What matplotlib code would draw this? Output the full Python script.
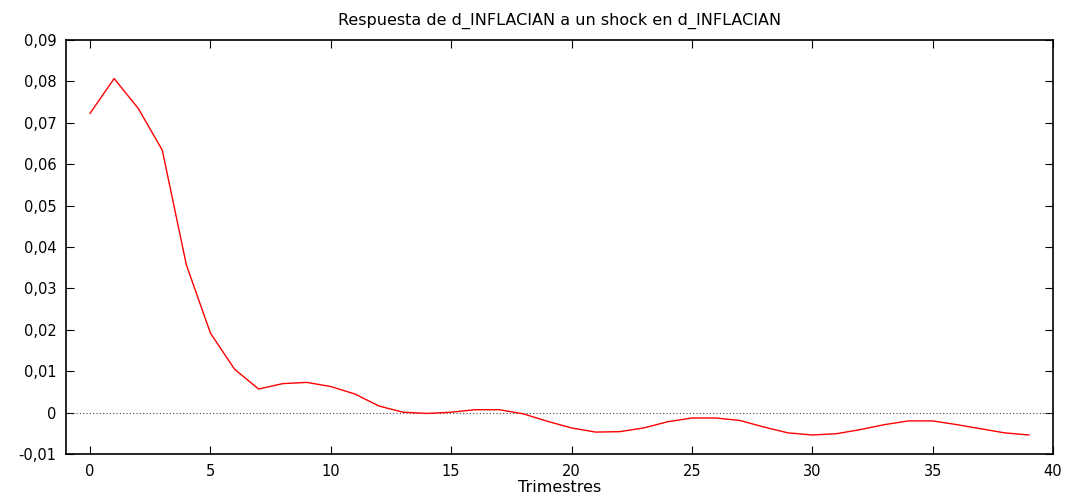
import matplotlib
matplotlib.use('Agg')
import matplotlib.pyplot as plt
from matplotlib.ticker import FuncFormatter

# respuesta al impulso, horizonte 0..39 trimestres
periodos = list(range(40))
respuesta = [
    0.0723, 0.0807, 0.0735, 0.0634, 0.0357, 0.0192, 0.0105, 0.0057, 0.0070, 0.0073,
    0.0063, 0.0045, 0.0016, 0.0001, -0.0002, 0.0001, 0.0007, 0.0007, -0.0003, -0.0021,
    -0.0037, -0.0047, -0.0046, -0.0037, -0.0022, -0.0013, -0.0013, -0.0019, -0.0035, -0.0049,
    -0.0054, -0.0051, -0.0041, -0.0029, -0.0020, -0.0020, -0.0029, -0.0039, -0.0049, -0.0054,
]
titulo = 'Respuesta de d_INFLACIAN a un shock en d_INFLACIAN'
etiqueta_x = 'Trimestres'

plt.rcParams['font.family'] = ['DejaVu Sans']

fig = plt.figure(figsize=(10.66, 4.95), dpi=100)
ax = fig.add_axes([0.0619, 0.0828, 0.9259, 0.8363])

ax.axhline(0, color='#444444', linestyle=(0, (1, 2)), linewidth=0.8)
ax.plot(periodos, respuesta, color='#ff0000', linewidth=1.0)

ax.set_xlim(-1, 40)
ax.set_ylim(-0.01, 0.09)
ax.set_xticks(range(0, 41, 5))
ax.set_yticks([i / 100 for i in range(-1, 10)])

def coma(v, pos):
    if abs(v) < 1e-9:
        return '0'
    return f'{v:.2f}'.replace('.', ',')

ax.yaxis.set_major_formatter(FuncFormatter(coma))
ax.tick_params(direction='in', top=True, right=True, length=6, width=0.8,
               labelsize=10.5, pad=7)
for s in ax.spines.values():
    s.set_linewidth(1.2)

ax.set_title(titulo, fontsize=11.5, pad=11)
ax.set_xlabel(etiqueta_x, fontsize=11.5, labelpad=1)

fig.savefig('out.png', dpi=100)
